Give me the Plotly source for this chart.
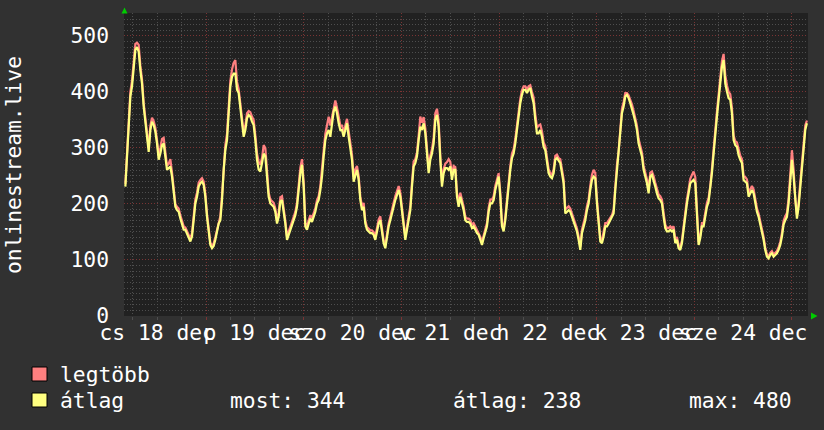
import plotly.graph_objects as go
from datetime import datetime, timedelta

# ---------------- data ----------------
START = datetime(2014, 12, 18, 4, 11)
STEP_MIN = 24.57

avg_values = [
    # Dec 18 - 19
    231, 280, 332, 392, 410, 451, 475, 480, 472, 439, 415, 374, 344, 314, 293, 332, 347, 341, 329, 308,
    279, 290, 305, 308, 279, 261, 264, 267, 249, 225, 195, 189, 186, 174, 165, 154, 154, 148, 139, 133,
    142, 177, 201, 213, 231, 237, 240, 234, 213, 177, 148, 127, 121, 125, 136, 148, 165, 171, 207, 261,
    296, 314, 368, 410, 427, 433, 433, 404, 398, 368, 344, 320, 332, 353, 359, 356, 347, 341, 314, 279,
    261, 258,
    # Dec 19 - 21
    273, 290, 285, 249, 213, 201, 198, 195, 186, 165, 177, 204, 207, 189, 165, 136, 145, 154, 160, 171,
    180, 195, 225, 255, 270, 231, 160, 154, 165, 174, 168, 177, 186, 201, 207, 225, 249, 285, 314, 326,
    332, 320, 344, 365, 374, 362, 344, 332, 332, 320, 332, 344, 320, 296, 279, 240, 249, 261, 243, 207,
    189, 195, 165, 154, 151, 148, 148, 145, 136, 154, 165, 171, 154, 130, 121, 142, 160, 171, 186, 195,
    207, 216, 225,
    # Dec 21 - 22
    213, 189, 154, 136, 154, 171, 189, 231, 267, 273, 285, 314, 338, 332, 344, 326, 285, 255, 279, 290,
    308, 350, 359, 338, 279, 231, 255, 264, 264, 261, 267, 243, 261, 261, 213, 195, 213, 201, 189, 171,
    168, 168, 165, 157, 160, 154, 148, 145, 136, 127, 139, 148, 160, 186, 201, 201, 207, 225, 237, 249,
    213, 160, 151, 171, 201, 237, 261, 282, 290, 308, 332, 359, 380, 395, 404, 404, 398, 404, 407, 392,
    380, 350, 326,
    # Dec 22 - 24
    326, 332, 320, 302, 296, 273, 255, 249, 246, 255, 279, 282, 276, 273, 255, 237, 183, 186, 189, 186,
    177, 171, 160, 151, 136, 118, 148, 160, 171, 189, 201, 225, 243, 249, 246, 201, 160, 133, 130, 142,
    160, 160, 165, 171, 174, 183, 225, 261, 285, 332, 362, 374, 392, 395, 389, 380, 371, 359, 347, 332,
    308, 296, 285, 261, 249, 237, 219, 249, 252, 243, 231, 219, 210, 207, 201, 177, 157, 151, 151, 154,
    151, 154, 130,
    # Dec 24 - 25
    136, 121, 118, 130, 154, 183, 201, 219, 237, 240, 243, 237, 189, 127, 139, 160, 160, 177, 195, 204,
    225, 255, 290, 332, 356, 386, 415, 445, 457, 415, 401, 389, 386, 362, 314, 305, 302, 287, 279, 273,
    243, 240, 237, 213, 219, 225, 219, 198, 186, 177, 165, 148, 136, 118, 106, 103, 109, 112, 106, 109,
    112, 118, 127, 142, 163, 171, 177, 201, 243, 279, 249, 201, 174, 195, 231, 261, 296, 332, 344,
]

max_values = [
    236, 290, 345, 400, 420, 462, 486, 488, 484, 447, 422, 380, 350, 318, 300, 340, 354, 348, 336, 314,
    286, 300, 316, 318, 286, 268, 272, 280, 256, 230, 200, 195, 192, 180, 170, 160, 158, 152, 143, 138,
    148, 183, 208, 220, 238, 243, 246, 240, 218, 182, 152, 131, 125, 130, 141, 154, 171, 178, 215, 270,
    305, 325, 378, 420, 440, 452, 457, 418, 405, 376, 350, 328, 340, 362, 366, 364, 356, 350, 322, 290,
    275, 270,
    282, 305, 300, 258, 220, 208, 205, 202, 192, 170, 185, 212, 214, 195, 170, 142, 150, 160, 166, 177,
    186, 202, 233, 265, 280, 240, 166, 160, 171, 180, 175, 184, 192, 207, 214, 232, 258, 295, 325, 340,
    356, 340, 355, 375, 385, 372, 352, 340, 340, 328, 340, 352, 330, 305, 288, 248, 262, 268, 250, 213,
    196, 202, 170, 159, 156, 153, 153, 150, 142, 160, 172, 178, 160, 135, 126, 147, 165, 177, 192, 202,
    214, 224, 232,
    220, 195, 160, 141, 160, 177, 196, 238, 276, 280, 292, 322, 356, 345, 355, 335, 292, 262, 286, 298,
    318, 362, 370, 348, 286, 238, 262, 272, 275, 280, 275, 250, 268, 266, 220, 203, 220, 208, 195, 177,
    174, 174, 171, 163, 166, 160, 154, 150, 141, 132, 144, 154, 166, 193, 208, 208, 214, 232, 245, 255,
    220, 166, 156, 177, 208, 244, 268, 290, 298, 316, 340, 367, 388, 403, 410, 410, 404, 410, 412, 400,
    390, 360, 336,
    340, 342, 330, 310, 303, 280, 262, 255, 252, 262, 286, 288, 282, 280, 262, 244, 190, 194, 196, 192,
    183, 177, 166, 156, 142, 124, 154, 166, 178, 196, 208, 233, 252, 261, 255, 208, 166, 138, 135, 148,
    166, 166, 171, 177, 180, 190, 233, 270, 294, 340, 370, 382, 398, 398, 394, 386, 378, 366, 354, 340,
    316, 304, 292, 268, 256, 244, 226, 256, 258, 250, 238, 226, 217, 214, 208, 184, 163, 157, 157, 160,
    157, 160, 136,
    141, 126, 123, 135, 160, 190, 208, 226, 245, 252, 258, 248, 196, 132, 144, 166, 166, 183, 202, 211,
    232, 263, 298, 342, 365, 395, 425, 455, 468, 430, 412, 400, 396, 372, 322, 312, 310, 295, 286, 280,
    250, 248, 244, 220, 226, 232, 226, 205, 192, 183, 170, 154, 141, 122, 110, 107, 113, 116, 110, 113,
    116, 123, 132, 148, 170, 178, 184, 210, 255, 296, 262, 208, 180, 202, 238, 268, 304, 340, 349,
]

day_starts = ["2014-12-18", "2014-12-19", "2014-12-20", "2014-12-21",
              "2014-12-22", "2014-12-23", "2014-12-24", "2014-12-25"]
day_label_pos = ["2014-12-18 12:00", "2014-12-19 12:00", "2014-12-20 12:00", "2014-12-21 12:00",
                 "2014-12-22 12:00", "2014-12-23 12:00", "2014-12-24 12:00"]
day_labels = ["cs 18 dec", "p 19 dec", "szo 20 dec", "v 21 dec", "h 22 dec", "k 23 dec", "sze 24 dec"]
x_range = ["2014-12-18 03:51", "2014-12-25 03:56"]
y_range = [0, 541]

series_names = ["legtöbb", "átlag"]
series_colors = ["#ff8080", "#ffff80"]
stat_texts = ["most: 344", "átlag: 238", "max: 480"]
y_title = "onlinestream.live"

times = [START + timedelta(minutes=STEP_MIN * i) for i in range(len(avg_values))]

# ---------------- style ----------------
FONT = "DejaVu Sans Mono"
FS = 21.3
PAPER = "#313131"
PLOT = "#212121"
MAJOR = "#7a3434"
MINOR = "#4e4e4e"
TXT = "#ffffff"
W, H = 824, 430
L, R, T, B = 124, 16, 13, 114
PW, PH = W - L - R, H - T - B


def px(xp):
    return (xp - L) / PW


def py(yp):
    return (H - B - yp) / PH


fig = go.Figure()
fig.add_trace(go.Scatter(x=times, y=max_values, mode="lines", name=series_names[0],
                         line=dict(color=series_colors[0], width=2.2), showlegend=False))
fig.add_trace(go.Scatter(x=times, y=avg_values, mode="lines", name=series_names[1],
                         line=dict(color=series_colors[1], width=2.2), showlegend=False))
# anchor trace for the label axis
fig.add_trace(go.Scatter(x=[times[0]], y=[avg_values[0]], xaxis="x2", mode="markers",
                         marker=dict(opacity=0), showlegend=False, hoverinfo="skip"))

fig.update_layout(
    template="none",
    width=W, height=H,
    margin=dict(l=L, r=R, t=T, b=B, pad=0, autoexpand=False),
    paper_bgcolor=PAPER, plot_bgcolor=PLOT,
    font=dict(family=FONT, size=FS, color=TXT),
    xaxis=dict(
        type="date", range=x_range, tickmode="array", tickvals=day_starts, automargin=False,
        showticklabels=False, showgrid=True, gridcolor=MAJOR, griddash="1px,2px", gridwidth=1,
        ticks="outside", ticklen=3, tickcolor=MAJOR, zeroline=False, showline=False,
        minor=dict(tickmode="linear", tick0="2014-12-18", dtick=6 * 3600 * 1000,
                   showgrid=True, gridcolor=MINOR, griddash="1px,2px", gridwidth=1,
                   ticks="outside", ticklen=3, tickcolor=MINOR),
    ),
    xaxis2=dict(
        type="date", range=x_range, overlaying="x", side="bottom", anchor="y", automargin=False,
        tickmode="array", tickvals=day_label_pos, ticktext=day_labels, tickangle=0,
        showgrid=False, zeroline=False, showline=False, ticks="",
        tickfont=dict(family=FONT, size=FS, color=TXT), ticklabelstandoff=2,
    ),
    yaxis=dict(
        range=y_range, dtick=100, tick0=0, showgrid=True, gridcolor=MAJOR, automargin=False,
        griddash="1px,2px", gridwidth=1, zeroline=False, showline=False, ticks="",
        tickfont=dict(family=FONT, size=FS, color=TXT), ticklabelstandoff=14,
        minor=dict(dtick=10, tick0=0, showgrid=True, gridcolor=MINOR,
                   griddash="1px,2px", gridwidth=1),
    ),
    showlegend=False,
)

annotations = [
    dict(text=y_title, x=px(13), y=py(165), xref="paper", yref="paper", textangle=-90,
         xanchor="center", yanchor="middle", showarrow=False,
         font=dict(family=FONT, size=FS, color=TXT)),
    dict(text=series_names[0], x=px(58), y=py(374), xref="paper", yref="paper",
         xanchor="left", yanchor="middle", showarrow=False,
         font=dict(family=FONT, size=FS, color=TXT)),
    dict(text=series_names[1], x=px(58), y=py(400), xref="paper", yref="paper",
         xanchor="left", yanchor="middle", showarrow=False,
         font=dict(family=FONT, size=FS, color=TXT)),
]
for txt, xp in zip(stat_texts, [228, 451, 687]):
    annotations.append(dict(text=txt, x=px(xp), y=py(400), xref="paper", yref="paper",
                            xanchor="left", yanchor="middle", showarrow=False,
                            font=dict(family=FONT, size=FS, color=TXT)))
fig.update_layout(annotations=annotations)

shapes = []
for color, (y0, y1) in zip(series_colors, [(367, 381), (393, 407)]):
    shapes.append(dict(type="rect", xref="paper", yref="paper",
                       x0=px(32), x1=px(47), y0=py(y1), y1=py(y0),
                       fillcolor=color, line=dict(color="#000000", width=1)))
# green arrow heads
up = f"M {px(121.5)} {py(13.5)} L {px(127.5)} {py(13.5)} L {px(124.5)} {py(7.5)} Z"
right = f"M {px(811)} {py(312.5)} L {px(811)} {py(319.5)} L {px(817.5)} {py(316)} Z"
for p in (up, right):
    shapes.append(dict(type="path", path=p, xref="paper", yref="paper",
                       fillcolor="#00cc00", line=dict(color="#00cc00", width=0)))
fig.update_layout(shapes=shapes)

fig.write_html(
    "out.html",
    config={"displayModeBar": False},
    post_script="document.body.style.margin='0';document.body.style.background='#313131';",
)
